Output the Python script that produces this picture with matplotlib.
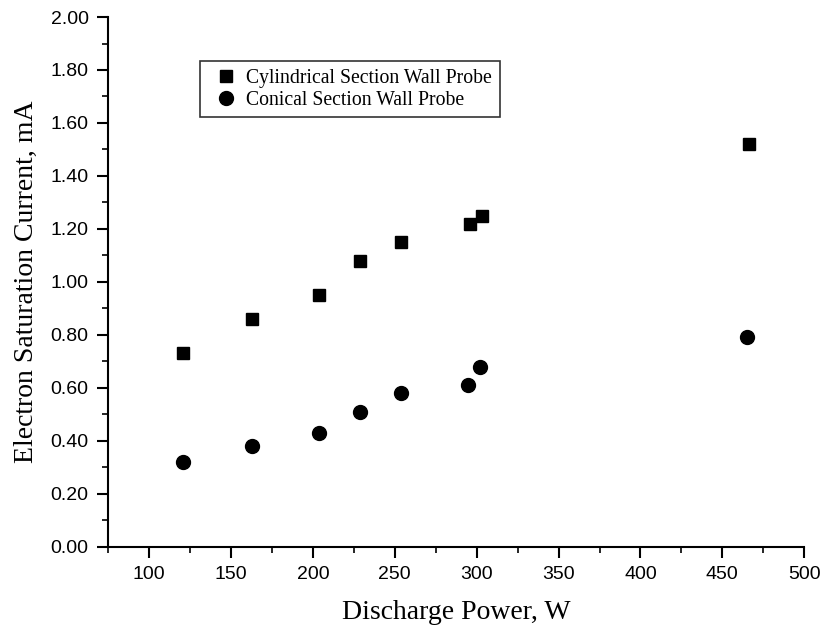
import numpy as np
import matplotlib.pyplot as plt
from matplotlib.ticker import MultipleLocator, FormatStrFormatter


# Data points
power_cyl = [121, 163, 204, 229, 254, 296, 303, 466]
current_cyl = [0.73, 0.86, 0.95, 1.08, 1.15, 1.22, 1.25, 1.52]

power_con = [121, 163, 204, 229, 254, 295, 302, 465]
current_con = [0.32, 0.38, 0.43, 0.51, 0.58, 0.61, 0.68, 0.79]

serif = ['Liberation Serif', 'DejaVu Serif']
sans = ['Liberation Sans', 'DejaVu Sans']

fig = plt.figure(figsize=(8.26, 6.33), dpi=100)
ax = fig.add_axes([0.1308, 0.1363, 0.8429, 0.8368])

ax.plot(power_cyl, current_cyl, 's', color='black', markersize=8,
        label='Cylindrical Section Wall Probe')
ax.plot(power_con, current_con, 'o', color='black', markersize=10,
        label='Conical Section Wall Probe')

ax.set_xlim(75, 500)
ax.set_ylim(0, 2.0)
ax.xaxis.set_major_locator(MultipleLocator(50))
ax.xaxis.set_minor_locator(MultipleLocator(25))
ax.yaxis.set_major_locator(MultipleLocator(0.2))
ax.yaxis.set_minor_locator(MultipleLocator(0.1))
ax.yaxis.set_major_formatter(FormatStrFormatter('%.2f'))

ax.set_xticks([100, 150, 200, 250, 300, 350, 400, 450, 500])

for s in ['top', 'right']:
    ax.spines[s].set_visible(False)
for s in ['left', 'bottom']:
    ax.spines[s].set_linewidth(1.5)

ax.tick_params(which='major', direction='out', length=8, width=1.5,
               labelsize=14, pad=6)
ax.tick_params(which='minor', direction='out', length=4, width=1.2)
for lbl in ax.get_xticklabels() + ax.get_yticklabels():
    lbl.set_family(sans)

ax.set_xlabel('Discharge Power, W', family=serif, fontsize=20, labelpad=12)
ax.set_ylabel('Electron Saturation Current, mA', family=serif, fontsize=20,
              labelpad=8)

leg = ax.legend(loc='upper left', bbox_to_anchor=(0.132, 0.9175),
                prop={'family': serif, 'size': 14.2}, frameon=True,
                fancybox=False, edgecolor='black', borderpad=0.4,
                handletextpad=0.15, labelspacing=0.15, borderaxespad=0,
                handlelength=1.8)
leg.get_frame().set_linewidth(1.2)

fig.savefig('out.png', dpi=100)
